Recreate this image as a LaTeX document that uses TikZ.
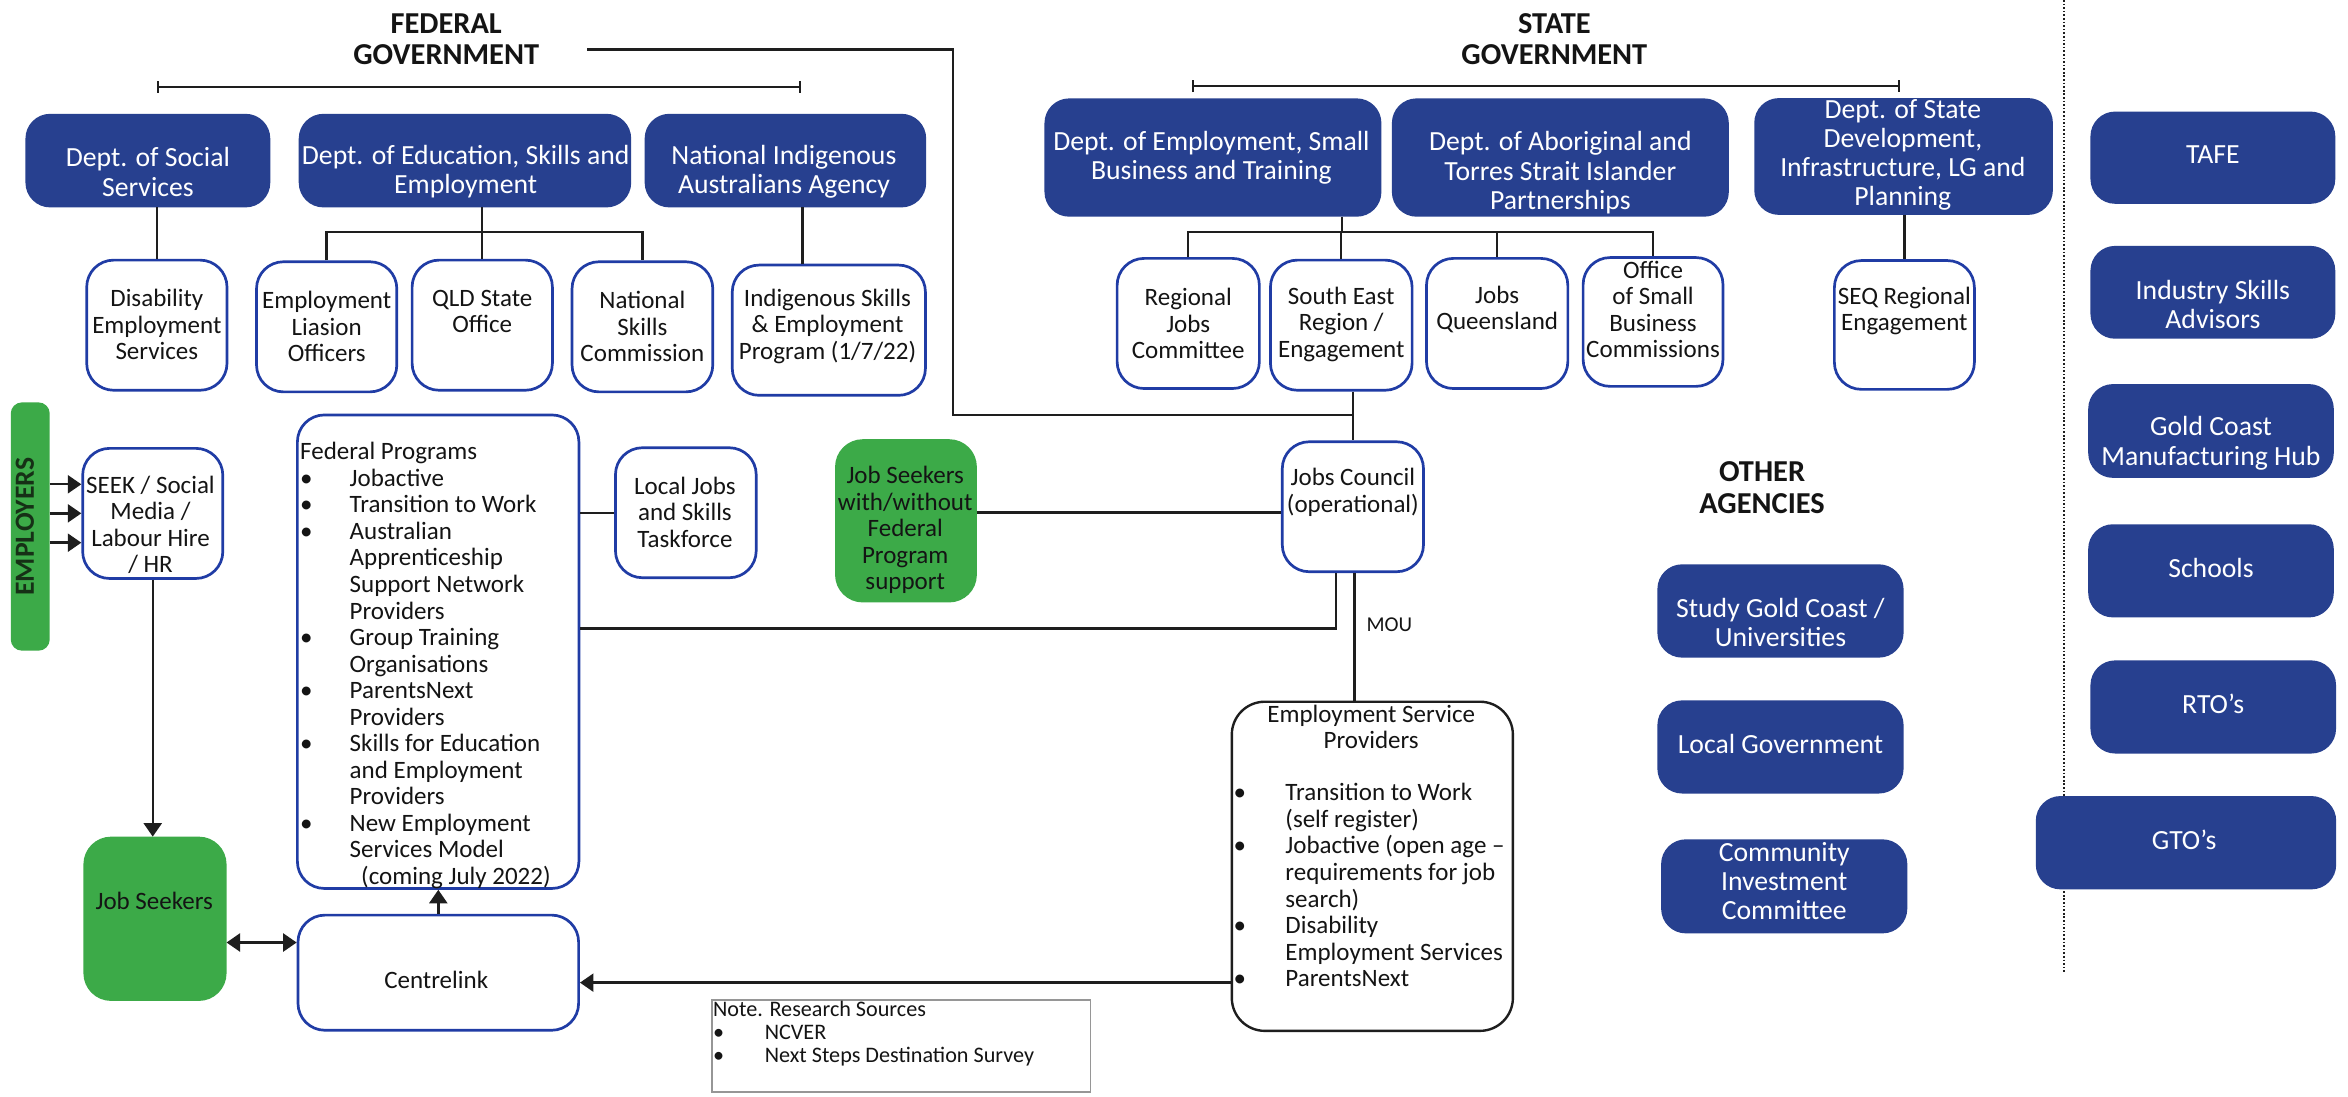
\documentclass[tikz,border=0pt]{standalone}
\usepackage{fontspec}
\setmainfont{Carlito}
\usetikzlibrary{arrows.meta}
\definecolor{bluefill}{RGB}{39,64,143}
\definecolor{boxblue}{RGB}{32,60,165}
\definecolor{jsgreen}{RGB}{60,170,72}
\definecolor{darktext}{RGB}{20,20,20}
\definecolor{emptext}{RGB}{22,48,22}
\definecolor{notegray}{RGB}{150,150,150}
\definecolor{linecol}{RGB}{30,30,30}
\newcommand\mybul[1]{\makebox[#1][l]{\textbullet}}
\newcommand\myind[1]{\makebox[#1][l]{}}
\newcommand\mkbox[6]{\node[#1, minimum width=#5pt, minimum height=#6pt] (#2) at (#3,#4) {};}
\begin{document}
\begin{tikzpicture}[x=1pt,y=-1pt,
 bluebox/.style={draw=bluefill, fill=bluefill, line width=1pt, rounded corners=16pt, inner sep=0pt},
 whitebox/.style={draw=boxblue, fill=white, line width=1.8pt, rounded corners=18pt, inner sep=0pt},
 greenbox/.style={draw=jsgreen, fill=jsgreen, line width=1pt, rounded corners=18pt, inner sep=0pt},
 blackbox/.style={draw=linecol, fill=white, line width=1.6pt, rounded corners=22pt, inner sep=0pt},
 notebox/.style={draw=notegray, fill=white, line width=1pt, inner sep=0pt},
 btxt/.style={text=white, font=\fontsize{18.5}{19.5}\selectfont, align=center, inner sep=0pt},
 txt/.style={text=darktext, font=\fontsize{16.7}{17.7}\selectfont, align=center, inner sep=0pt},
 ltxt/.style={txt, align=left, anchor=west},
 ttl/.style={text=darktext, font=\bfseries\fontsize{20.3}{21}\selectfont, align=center, inner sep=0pt},
 conn/.style={draw=linecol, line width=1.6pt},
 arr/.style={conn, -{Triangle[length=9pt,width=12pt]}},
 darr/.style={conn, {Triangle[length=9pt,width=12pt]}-{Triangle[length=9pt,width=12pt]}},
 brk/.style={conn, {Bar[width=8pt]}-{Bar[width=8pt]}},
]
\useasboundingbox (0,0) rectangle (1568,732);
\fill[white] (0,0) rectangle (1568,732);

% ---------- titles ----------
\node[ttl] (fedtitle) at (298,26.2) {FEDERAL\\GOVERNMENT};
\node[ttl] (statetitle) at (1038,26.2) {STATE\\GOVERNMENT};
\node[ttl] (othertitle) at (1176.7,325.5) {OTHER\\AGENCIES};
\coordinate (fbl) at (104.6,58);
\coordinate (fbr) at (535,58);
\coordinate (sbl) at (796,57.5);
\coordinate (sbr) at (1269,57.5);
\draw[brk] (fbl) -- (fbr);
\draw[brk] (sbl) -- (sbr);

% ---------- dotted divider ----------
\coordinate (dottop) at (1378.5,0);
\coordinate (dotbot) at (1378.5,650);
\draw[draw=linecol, line width=1.2pt, dash pattern=on 1.1pt off 1.3pt] (dottop) -- (dotbot);

% ---------- federal blue boxes ----------
\mkbox{bluebox}{dss}{98.75}{107.25}{162.5}{61.5}
\node[btxt] (dsst) at (98.75,114.8) {Dept. of Social\\Services};
\mkbox{bluebox}{dese}{310.5}{107.25}{221}{61.5}
\node[btxt] (deset) at (311,114.8) {Dept. of Education, Skills and\\Employment};
\mkbox{bluebox}{niaa}{524.5}{107.25}{187}{61.5}
\node[btxt] (niaat) at (523.5,114.8) {National Indigenous\\Australians Agency};

% ---------- state blue boxes ----------
\mkbox{bluebox}{desbt}{810}{105.2}{224}{78}
\node[btxt] (desbtt) at (809,105.6) {Dept. of Employment, Small\\Business and Training};
\mkbox{bluebox}{datsip}{1042}{105.2}{224}{78}
\node[btxt] (datsipt) at (1042,115.3) {Dept. of Aboriginal and\\Torres Strait Islander\\Partnerships};
\mkbox{bluebox}{dsd}{1271.2}{104.5}{198.4}{77}
\node[btxt] (dsdt) at (1270.7,103.5) {Dept. of State\\Development,\\Infrastructure, LG and\\Planning};

% ---------- right column ----------
\mkbox{bluebox}{tafe}{1477.75}{105.3}{162.5}{60.6}
\node[btxt] (tafet) at (1477.75,103.5) {TAFE};
\mkbox{bluebox}{isa}{1477.75}{195.2}{162.5}{61}
\node[btxt] (isat) at (1477.75,203.4) {Industry Skills\\Advisors};
\mkbox{bluebox}{gcmh}{1476.5}{287.8}{163}{61.6}
\node[btxt] (gcmht) at (1476.5,296) {Gold Coast\\Manufacturing Hub};
\mkbox{bluebox}{schools}{1476.5}{381.2}{163}{61.2}
\node[btxt] (schoolst) at (1476.5,379.6) {Schools};
\mkbox{bluebox}{rto}{1478}{472.1}{163}{61.2}
\node[btxt] (rtot) at (1478,470.2) {RTO’s};
\mkbox{bluebox}{gto}{1459.8}{562.75}{199.6}{61.3}
\node[btxt] (gtot) at (1458.6,561.1) {GTO’s};

% ---------- other agencies ----------
\mkbox{bluebox}{sgc}{1189}{408}{163.4}{61.3}
\node[btxt] (sgct) at (1189,415.8) {Study Gold Coast /\\Universities};
\mkbox{bluebox}{lg}{1189}{498.8}{163.4}{61.2}
\node[btxt] (lgt) at (1189,496.9) {Local Government};
\mkbox{bluebox}{cic}{1191.5}{591.9}{163.4}{61.8}
\node[btxt] (cict) at (1191.5,588.5) {Community\\Investment\\Committee};

% ---------- federal white boxes ----------
\mkbox{whitebox}{des}{104.75}{217.15}{93.7}{86.9}
\node[txt] (dest) at (104.75,216.7) {Disability\\Employment\\Services};
\mkbox{whitebox}{elo}{218.15}{218.25}{93.7}{86.9}
\node[txt] (elot) at (218.15,218.1) {Employment\\Liasion\\Officers};
\mkbox{whitebox}{qld}{322.05}{217.15}{93.7}{86.9}
\node[txt] (qldt) at (322.05,208) {QLD State\\Office};
\mkbox{whitebox}{nsc}{429}{218.25}{94}{86.9}
\node[txt] (nsct) at (429,218.1) {National\\Skills\\Commission};
\mkbox{whitebox}{isep}{553.5}{220.5}{129}{87}
\node[txt] (isept) at (552.6,218) {Indigenous Skills\\\& Employment\\Program (1/7/22)};

% ---------- state white boxes ----------
\mkbox{whitebox}{rjc}{793.5}{216}{95}{86.9}
\node[txt] (rjct) at (793.5,216) {Regional\\Jobs\\Committee};
\mkbox{whitebox}{ser}{895.7}{217.15}{94.6}{86.9}
\node[txt] (sert) at (895.7,216.5) {South East\\Region /\\Engagement};
\mkbox{whitebox}{jq}{999.8}{216}{94.4}{86.9}
\node[txt] (jqt) at (999.8,206.8) {Jobs\\Queensland};
\mkbox{whitebox}{osbc}{1103.9}{215}{93.4}{86}
\node[txt] (osbct) at (1103.9,206.5) {Office\\of Small\\Business\\Commissions};
\mkbox{whitebox}{seq}{1271.75}{217}{93.5}{86}
\node[txt] (seqt) at (1271.75,207.5) {SEQ Regional\\Engagement};

% ---------- middle ----------
\mkbox{greenbox}{jsfed}{605}{347.8}{93.7}{108}
\node[txt] (jsfedt) at (604.5,354) {Job Seekers\\with/without\\Federal\\Program\\support};
\mkbox{whitebox}{jc}{903.45}{338.4}{94.3}{86.8}
\node[txt] (jct) at (903.45,328.8) {Jobs Council\\(operational)};
\mkbox{whitebox}{fp}{292.6}{435.2}{188}{316.2}
\node[ltxt] (fpt) at (200.3,444.4) {Federal Programs\\
\mybul{33pt}Jobactive\\
\mybul{33pt}Transition to Work\\
\mybul{33pt}Australian\\
\myind{33pt}Apprenticeship\\
\myind{33pt}Support Network\\
\myind{33pt}Providers\\
\mybul{33pt}Group Training\\
\myind{33pt}Organisations\\
\mybul{33pt}ParentsNext\\
\myind{33pt}Providers\\
\mybul{33pt}Skills for Education\\
\myind{33pt}and Employment\\
\myind{33pt}Providers\\
\mybul{33pt}New Employment\\
\myind{33pt}Services Model\\
\myind{40.7pt}(coming July 2022)};
\mkbox{whitebox}{lj}{458}{342.4}{94}{86.8}
\node[txt] (ljt) at (457.4,342) {Local Jobs\\and Skills\\Taskforce};

% ---------- left ----------
\node[greenbox, rounded corners=7pt, minimum width=25pt, minimum height=164.8pt] (emp) at (20.2,351.6) {};
\node[text=emptext, font=\bfseries\fontsize{18.5}{19}\selectfont, rotate=90, inner sep=0pt] (empt) at (16.7,351.7) {EMPLOYERS};
\mkbox{whitebox}{seek}{102}{342.85}{93.6}{86.9}
\node[txt] (seekt) at (100.5,350.4) {SEEK / Social\\Media /\\Labour Hire\\/ HR};
\mkbox{greenbox}{jsk}{103.5}{613.55}{94.6}{108.7}
\node[txt] (jskt) at (103,601.5) {Job Seekers};
\mkbox{whitebox}{cl}{292.7}{649.55}{187.4}{76.9}
\node[txt] (clt) at (291.3,654.5) {Centrelink};

% ---------- employment service providers ----------
\mkbox{blackbox}{esp}{916.45}{578.5}{187.7}{219.8}
\node[txt] (espt) at (915.7,485.3) {Employment Service\\Providers};
\node[ltxt] (espl) at (823.6,591.1) {\mybul{34.6pt}Transition to Work\\
\myind{34.6pt}(self register)\\
\mybul{34.6pt}Jobactive (open age –\\
\myind{34.6pt}requirements for job\\
\myind{34.6pt}search)\\
\mybul{34.6pt}Disability\\
\myind{34.6pt}Employment Services\\
\mybul{34.6pt}ParentsNext};
\node[txt, font=\fontsize{14.1}{15}\selectfont] (mou) at (927.8,417) {MOU};

% ---------- note ----------
\mkbox{notebox}{note}{601.85}{698.5}{252.9}{61.2}
\node[ltxt, font=\fontsize{14.8}{15.6}\selectfont] (notet) at (476,690.2) {Note. Research Sources\\
\mybul{34.5pt}NCVER\\
\mybul{34.5pt}Next Steps Destination Survey};

% ---------- connectors ----------
% federal line to jobs council
\coordinate (fedstart) at (392,33);
\coordinate (fedturn) at (636.6,33);
\coordinate (jcjoin) at (903.45,277.1);
\draw[conn] (fedstart) -- (fedturn) |- (jcjoin);
% DSS
\draw[conn] (des.north |- dss.south) -- (des.north);
% DESE tree
\coordinate (fbus) at (322,154.8);
\draw[conn] (dese.south -| fbus) -- (fbus);
\draw[conn] (elo.north) |- (nsc.north |- fbus) -- (nsc.north);
\draw[conn] (fbus -| qld.north) -- (qld.north);
% NIAA
\draw[conn] ([xshift=11.5pt]niaa.south) -- ([xshift=11.5pt]niaa.south |- isep.north);
% DESBT tree
\coordinate (sbus) at (896,154.8);
\draw[conn] (desbt.south -| sbus) -- (sbus);
\draw[conn] (rjc.north) |- (osbc.north |- sbus) -- (osbc.north);
\draw[conn] (sbus -| ser.north) -- (ser.north);
\draw[conn] (sbus -| jq.north) -- (jq.north);
% DSD
\draw[conn] (dsd.south -| seq.north) -- (seq.north);
% SER to Jobs Council
\draw[conn] (jc.north |- ser.south) -- (jc.north);
% job seekers (fed) to jobs council
\coordinate (jsline) at (0,342.2);
\draw[conn] (jsfed.east |- jsline) -- (jc.west |- jsline);
% federal programs to jobs council
\coordinate (fpline) at (0,419.7);
\draw[conn] (fp.east |- fpline) -| ([xshift=-11.45pt]jc.south);
% MOU
\draw[conn] ([xshift=1.15pt]jc.south) -- ([xshift=1.15pt]jc.south |- esp.north);
% ESP to Centrelink
\coordinate (clline) at (0,656.2);
\draw[arr] (esp.west |- clline) -- (cl.east |- clline);
% FP to local jobs
\draw[conn] (fp.east |- lj.west) -- (lj.west);
% employers to SEEK
\coordinate (ea) at (0,323.4);
\coordinate (eb) at (0,342.8);
\coordinate (ec) at (0,362.4);
\draw[arr] (emp.east |- ea) -- (seek.west |- ea);
\draw[arr] (emp.east |- eb) -- (seek.west |- eb);
\draw[arr] (emp.east |- ec) -- (seek.west |- ec);
% SEEK to job seekers
\draw[arr] (seek.south) -- (seek.south |- jsk.north);
% job seekers <-> centrelink
\coordinate (jcl) at (0,629.4);
\draw[darr] (jsk.east |- jcl) -- (cl.west |- jcl);
% centrelink to federal programs
\draw[arr] (cl.north) -- (cl.north |- fp.south);
\end{tikzpicture}
\end{document}
